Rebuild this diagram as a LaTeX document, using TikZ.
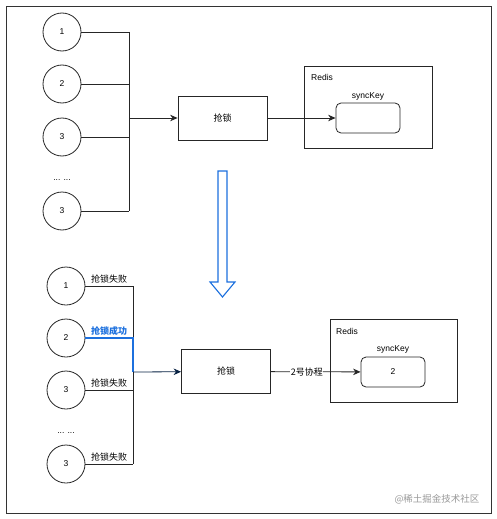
\documentclass[tikz,border=0pt]{standalone}
\usepackage{fontspec}
\setmainfont{Liberation Sans}
\newfontfamily\cjk{Noto Sans CJK SC}
\usepackage{xcolor}
\usepackage{tikz}
\usetikzlibrary{positioning,arrows.meta,calc}
\definecolor{lockblue}{RGB}{28,112,222}
\tikzset{
  link/.style={line width=0.8pt, draw=black!85},
  flow/.style={-{Stealth[length=7.5pt,width=6.5pt]}, line width=0.8pt, draw=black!85},
  win/.style={line width=1.1pt, draw=lockblue},
  proc/.style={circle, draw=black!85, line width=0.8pt, fill=white,
    minimum size=38pt, inner sep=0pt, font=\fontsize{8.5}{9}\selectfont},
  lockbox/.style={draw=black!85, line width=0.8pt, fill=white,
    minimum width=89pt, minimum height=44pt, font=\cjk\fontsize{9}{10}\selectfont},
  store/.style={draw=black!85, line width=0.8pt, fill=white},
  keybox/.style={draw=black!85, line width=0.8pt, fill=white, rounded corners=5pt,
    minimum width=64pt, minimum height=30pt, font=\fontsize{8.5}{10}\selectfont},
  tag/.style={font=\cjk\fontsize{9}{10}\selectfont, inner sep=2pt},
  small/.style={font=\fontsize{8.5}{10}\selectfont, inner sep=0pt}
}
\begin{document}
\begin{tikzpicture}[x=1pt, y=-1pt]
  \useasboundingbox (0,0) rectangle (497,519);
  \draw[line width=0.9pt, draw=black!80] (6,6) rectangle (491,513);

  % Before: every coroutine races for the lock.
  \node[proc] (a1) at (62,32) {1};
  \node[proc] (a2) at (62,84) {2};
  \node[proc] (a3) at (62,137) {3};
  \node[small] (adots) at (62,180) {... ...};
  \node[proc] (a5) at (62,211) {3};
  \coordinate (busA) at (129,118);
  \node[lockbox] (lockA) at (222.5,118) {抢锁};

  \draw[store] (304,66) rectangle (432,148);
  \node[small, anchor=west] (redisA) at (311,77) {Redis};
  \node[keybox] (keyA) at (368,118) {};
  \node[small] (nameA) at (368,96) {syncKey};

  \foreach \n in {a1,a2,a3,a5}
    \draw[link] (\n) -- (\n -| busA);
  \draw[link] (a1 -| busA) -- (a5 -| busA);
  \draw[flow] (busA) -- (lockA);
  \draw[flow] (lockA) -- (keyA);

  % Transition arrow.
  \draw[lockblue, line width=1.1pt, fill=white, line join=miter]
    (218,171) -- (218,282) -- (210,282) -- (222.5,297) -- (235,282)
    -- (227,282) -- (227,171) -- cycle;

  % After: coroutine 2 holds the key.
  \node[proc] (b1) at (66,286) {1};
  \node[proc] (b2) at (66,338) {2};
  \node[proc] (b3) at (66,390) {3};
  \node[small] (bdots) at (66,433) {... ...};
  \node[proc] (b5) at (66,464) {3};
  \coordinate (busB) at (133,372);
  \node[lockbox] (lockB) at (226,371.5) {抢锁};

  \draw[store] (330,319) rectangle (457,402);
  \node[small, anchor=west] (redisB) at (336,331) {Redis};
  \node[keybox] (keyB) at (393,372) {2};
  \node[small] (nameB) at (393,349) {syncKey};

  \draw[link] (b1) -- node[tag, above] (t1) {抢锁失败} (b1 -| busB);
  \draw[link] (b3) -- node[tag, above] (t3) {抢锁失败} (b3 -| busB);
  \draw[link] (b5) -- node[tag, above] (t5) {抢锁失败} (b5 -| busB);
  \draw[link] (b1 -| busB) -- (b5 -| busB);
  \draw[win] (b2) -- node[tag, above, text=lockblue, font=\cjk\bfseries\fontsize{9}{10}\selectfont] (t2) {抢锁成功} (b2 -| busB) -- (busB);
  \draw[flow, draw=black!70!lockblue] (busB) -- (lockB);
  \draw[flow] (lockB) -- node[tag, fill=white, inner sep=0.5pt, pos=0.4] (who) {2号协程} (keyB);

  \node[font=\cjk\fontsize{9.5}{10}\selectfont, text=black!40] (mark) at (437,499) {@稀土掘金技术社区};
\end{tikzpicture}
\end{document}
